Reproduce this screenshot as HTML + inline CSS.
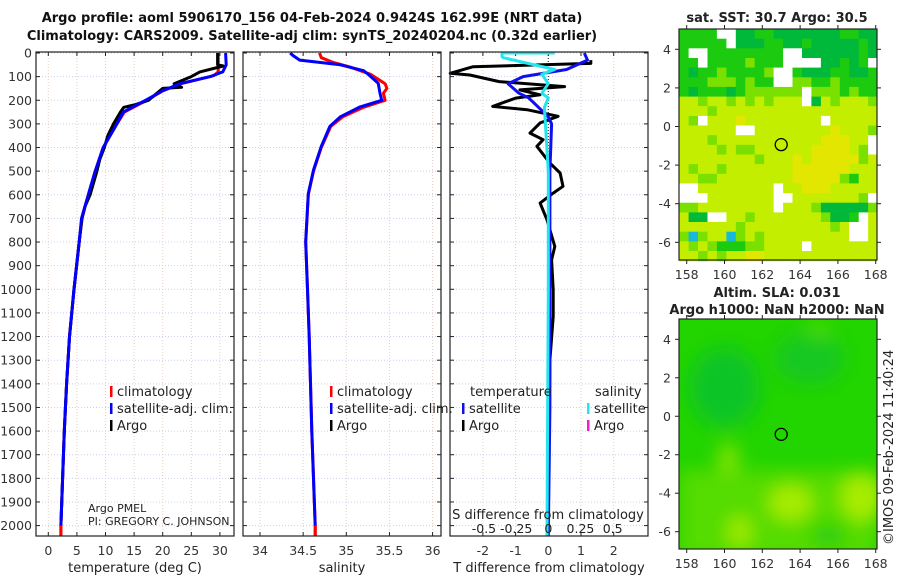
<!DOCTYPE html>
<html><head><meta charset="utf-8"><title>Argo profile</title>
<style>
html,body{margin:0;padding:0;background:#fff;}
svg{display:block;font-family:"DejaVu Sans","Liberation Sans",sans-serif;}
</style></head>
<body>
<svg id="fig" width="900" height="580" viewBox="0 0 900 580" xmlns="http://www.w3.org/2000/svg">
<rect width="900" height="580" fill="#fff"/>
<text x="312" y="22" text-anchor="middle" font-size="13" font-weight="bold" fill="#111">Argo profile: aoml 5906170_156 04-Feb-2024 0.9424S 162.99E (NRT data)</text>
<text x="312" y="40" text-anchor="middle" font-size="13" font-weight="bold" fill="#111">Climatology: CARS2009. Satellite-adj clim: synTS_20240204.nc (0.32d earlier)</text>
<g id="panels"></g>
<g id="maps"></g>
<text transform="translate(893,545) rotate(-90)" font-size="13" fill="#222">©IMOS 09-Feb-2024 11:40:24</text>
</svg>
<script>
// ---------- data ----------
const depthTicks=[0,100,200,300,400,500,600,700,800,900,1000,1100,1200,1300,1400,1500,1600,1700,1800,1900,2000];
const tempTicks=[0,5,10,15,20,25,30];
const salTicks=[34,34.5,35,35.5,36];
const salTickLabels=["34","34.5","35","35.5","36"];
const tdiffTicks=[-2,-1,0,1,2];
const sdiffTicks=[-0.5,-0.25,0,0.25,0.5];
const sdiffTickLabels=["-0.5","-0.25","0","0.25","0.5"];

const climTempDepth=[0,80,95,100,130,160,200,250,300,400,500,600,700,800,1000,1200,1400,1600,1800,2000,2045];
const climTempVal=[29.7,29.7,29.0,28.3,23.2,20.0,17.2,13.3,12.0,9.6,8.2,7.0,5.9,5.4,4.5,3.7,3.2,2.8,2.5,2.2,2.2];
const satTempDepth=[0,50,80,100,130,160,200,250,300,400,500,600,700,800,1000,1200,1400,1600,1800,2000];
const satTempVal=[31.0,31.1,30.5,28.3,23.0,20.0,17.0,13.1,12.0,9.6,8.2,7.0,5.8,5.4,4.5,3.7,3.2,2.8,2.5,2.2];
const argoTempDepth=[0,50,55,80,100,130,145,150,200,220,230,250,300,350,400,450,500,600,650,700,800,1000,1200,1400,1600,1800,2000];
const argoTempVal=[29.6,29.6,30.6,26.5,25.0,22.0,23.3,20.0,17.5,15.0,13.2,12.6,11.4,10.4,9.8,9.0,8.5,7.3,6.4,5.9,5.4,4.5,3.7,3.2,2.8,2.5,2.2];

const climSalDepth=[0,20,40,60,90,130,150,170,200,230,270,310,400,500,600,800,1000,1200,1600,2000,2045];
const climSalVal=[34.69,34.71,34.85,35.05,35.28,35.45,35.47,35.43,35.45,35.2,34.96,34.82,34.71,34.62,34.56,34.53,34.55,34.57,34.6,34.64,34.64];
const satSalDepth=[0,10,30,50,75,86,128,170,200,228,270,310,395,495,595,800,1000,1200,1600,2000];
const satSalVal=[34.35,34.38,34.46,34.93,35.2,35.24,35.37,35.39,35.41,35.16,34.93,34.81,34.71,34.62,34.56,34.53,34.55,34.57,34.6,34.64];

const satTdiffDepth=[0,30,70,100,130,170,190,230,270,300,500,1000,1500,2045];
const satTdiffVal=[1.1,1.2,0.56,-0.77,-1.23,-0.9,-0.6,-0.3,0.0,0.1,0.05,0.05,0.05,0.0];
const argoTdiffDepth=[30,44,58,86,93,121,142,156,177,191,226,240,268,296,339,367,395,466,508,564,593,635,706,819,875,1002,1115,1300,1500,1650];
const argoTdiffVal=[1.3,1.3,-2.3,-3.0,-2.4,-1.5,0.5,-0.87,-0.25,-1.0,-1.7,-0.65,0.3,-0.25,-0.56,-0.16,-0.35,0.05,0.36,0.45,0.15,-0.25,-0.04,0.2,0.1,0.15,0.15,0.05,0.03,0.02];
const satSdiffDepth=[0,0,15,20,70,90,130,170,190,230,500,1000,2045];
const satSdiffVal=[0.05,-0.36,-0.36,-0.35,0.05,-0.05,0.0,-0.05,0.0,-0.03,0.0,0.0,-0.01];

// SST map grid (rows lat 5 -> -7 step 0.5, cols lon 157.6 step 0.5)
const sstRows=[
"GGGGWWDDGGDDDDDDDGGDD",
"GGGGGWDDDGGDDGDDDDDGD",
"GWWGGGGGGGGWWDDDDDDGD",
"GGWGGGGLGGGWWWWDDGDGW",
"GDGGLGGGGLWWGDDDGGDDG",
"GGGLLLGLGGWWLLGGLGGGG",
"GDGGGDGLLLLLLWLLLGLGG",
"YYLYYLYLYLYYYWDYLYYYL",
"YYYLYYYYYYYYYYYYYYYYY",
"YLWYYYOYYYYYYYYWYYYYY",
"YYYYYYWWYYYYYYYYOYYYL",
"YYYLYYYYYYYYYYYOOOYYW",
"YYYYLYLLYYYYYYOOOOYLW",
"YYYYYYYYLYYYOYOOOOOLY",
"YLYYLYYYYYYYOOOOOOYYY",
"YYLLYYYYYYYYOOOOOLGYY",
"WWYYYYYYYYWYYOOOYYYYY",
"WWWYYYYYYYWWYYYYYYYLW",
"LLYYYYYYYYWYYYLDDDDDL",
"YDDWWYYLYYYYYYYLDDGWY",
"YYYYYYLYYYYYYYYYLYWWY",
"LCLYYCLYLYYYYYYYYYWWY",
"YLYLGGGLLYYYYWYYYYYYY",
"YYLYLYYOOYYYYYYYYYYYY"];
const lonTicks=[158,160,162,164,166,168];
const latTicks=[4,2,0,-2,-4,-6];
const floatLon=[163.0];
const floatLat=[-0.94];

// ---------- helpers ----------
const NS="http://www.w3.org/2000/svg";
function mk(tag,attrs,parent,txt){const e=document.createElementNS(NS,tag);for(const k in attrs)e.setAttribute(k,attrs[k]);if(txt!==undefined)e.textContent=txt;parent.appendChild(e);return e;}
const P=document.getElementById('panels');
const M=document.getElementById('maps');
const yD=d=>53+d*0.2363;
const xT=t=>48.3+t*5.72;
const xS=s=>260+(s-34)*86.3;
const xTD=v=>548.3+v*32.7;
const xSD=v=>548.3+v*128.7;
const TOP=52, BOT=536;
const panelsX=[[36,234],[243,441],[450,648]];

function series(depths,vals,xf,color,w,name,g){
  const pts=depths.map((d,i)=>xf(vals[i]).toFixed(1)+","+yD(d).toFixed(1)).join(" ");
  const el=mk('polyline',{points:pts,fill:'none',stroke:color,'stroke-width':w,'stroke-linejoin':'round'},g);
  
  
  return el;
}

panelsX.forEach((px,pi)=>{
  const g=mk('g',{},P);
  
  
  // horizontal grid
  depthTicks.forEach(d=>{
    const l=mk('line',{x1:px[0],x2:px[1],y1:yD(d),y2:yD(d),stroke:'#c9cff0','stroke-width':1,'stroke-dasharray':'1,2'},g);
    
    
    mk('line',{x1:px[0],x2:px[0]+4,y1:yD(d),y2:yD(d),stroke:'#222'},g);
    mk('line',{x1:px[1]-4,x2:px[1],y1:yD(d),y2:yD(d),stroke:'#222'},g);
  });
  let ticks,xf;
  if(pi===0){ticks=tempTicks;xf=xT;}else if(pi===1){ticks=salTicks;xf=xS;}else{ticks=tdiffTicks;xf=xTD;}
  ticks.forEach((t,i)=>{
    const x=xf(t);
    const l=mk('line',{x1:x,x2:x,y1:TOP,y2:BOT,stroke:'#e6cfc0','stroke-width':1,'stroke-dasharray':'1,2'},g);
    
    
    mk('line',{x1:x,x2:x,y1:TOP,y2:TOP+4,stroke:'#222'},g);
    mk('line',{x1:x,x2:x,y1:BOT-4,y2:BOT,stroke:'#222'},g);
    const lab=mk('text',{x:x,y:555,'text-anchor':'middle','font-size':12.5,fill:'#333'},g,pi===1?salTickLabels[i]:String(t));
    
    
  });
});
// y tick labels
depthTicks.forEach(d=>{
  const t=mk('text',{x:32,y:yD(d)+4.5,'text-anchor':'end','font-size':12.5,fill:'#333'},P,String(d));
  
  
});

// Panel 1 series
const g1=P.children[0];
series(climTempDepth,climTempVal,xT,'#ff0000',3,'temperature-climatology-line',g1);
series(argoTempDepth,argoTempVal,xT,'#000000',3,'temperature-argo-line',g1);
series(satTempDepth,satTempVal,xT,'#0000ff',3,'temperature-satellite-line',g1);
mk('line',{x1:xT(2.2),x2:xT(2.2),y1:yD(2000),y2:yD(2045),stroke:'#ff0000','stroke-width':3},g1);
// Panel 2
const g2=P.children[1];
series(climSalDepth,climSalVal,xS,'#ff0000',3,'salinity-climatology-line',g2);
series(satSalDepth,satSalVal,xS,'#0000ff',3,'salinity-satellite-line',g2);
mk('line',{x1:xS(34.64),x2:xS(34.64),y1:yD(2000),y2:yD(2045),stroke:'#ff0000','stroke-width':3},g2);
// Panel 3
const g3=P.children[2];
mk('line',{x1:xTD(0),x2:xTD(0),y1:TOP,y2:BOT,stroke:'#222','stroke-dasharray':'1,2'},g3);
series(argoTdiffDepth,argoTdiffVal,xTD,'#000000',3,'tdiff-argo-line',g3);
series(satTdiffDepth,satTdiffVal,xTD,'#1010ee',3,'tdiff-satellite-line',g3);
series(satSdiffDepth,satSdiffVal,xSD,'#22e6ee',3,'sdiff-satellite-line',g3);

// frames
panelsX.forEach((px,pi)=>{
  const r=mk('rect',{x:px[0],y:TOP,width:px[1]-px[0],height:BOT-TOP,fill:'none',stroke:'#222','stroke-width':1.2},P);
  
  
});

// axis titles
function txt(x,y,s,size,name,anchor,parent,extra){
  const a=Object.assign({x:x,y:y,'font-size':size,fill:'#222','text-anchor':anchor||'start'},extra||{});
  const t=mk('text',a,parent||P,s);
  
  
  return t;
}
txt(135,572,'temperature (deg C)',13,'x-axis-title-temperature','middle');
txt(342,572,'salinity',13,'x-axis-title-salinity','middle');
txt(549,572,'T difference from climatology',13,'x-axis-title-tdiff','middle');
txt(548,519,'S difference from climatology',13,'sdiff-axis-title','middle');
sdiffTicks.forEach((v,i)=>{txt(xSD(v),533,sdiffTickLabels[i],12.5,'sdiff-tick-label','middle');});
txt(88,512,'Argo PMEL',11,'argo-pmel-label');
txt(88,525,'PI: GREGORY C. JOHNSON',11,'pi-label');

// legends
function legend(x,y,color,label,name){
  const g=mk('g',{},P);
  
  
  mk('rect',{x:x,y:y-10,width:2.5,height:11,fill:color},g);
  mk('text',{x:x+7,y:y,'font-size':13,fill:'#222'},g,label);
}
legend(110,396,'#ff0000','climatology','legend-entry-climatology');
legend(110,413,'#0000ff','satellite-adj. clim.','legend-entry-satellite-temp');
legend(110,430,'#000000','Argo','legend-entry-argo-temp');
legend(330,396,'#ff0000','climatology','legend-entry-climatology-sal');
legend(330,413,'#0000ff','satellite-adj. clim.','legend-entry-satellite-sal');
legend(330,430,'#000000','Argo','legend-entry-argo-sal');
txt(470,396,'temperature',13,'legend-heading-temperature');
txt(595,396,'salinity',13,'legend-heading-salinity');
legend(462,413,'#1010ee','satellite','legend-entry-tdiff-satellite');
legend(462,430,'#000000','Argo','legend-entry-tdiff-argo');
legend(587,413,'#22e6ee','satellite','legend-entry-sdiff-satellite');
legend(587,430,'#ee22cc','Argo','legend-entry-sdiff-argo');

// ---------- maps ----------
const MX0=679,MX1=877;
const lonX=lo=>686.7+(lo-158)*18.9;
function mapAxes(y0,y1,latY,name){
  const g=mk('g',{},M);
  
  
  mk('rect',{x:MX0,y:y0,width:MX1-MX0,height:y1-y0,fill:'none',stroke:'#222','stroke-width':1.2},g);
  lonTicks.forEach(lo=>{
    const x=lonX(lo);
    mk('line',{x1:x,x2:x,y1:y0-4,y2:y0,stroke:'#222'},g);
    mk('line',{x1:x,x2:x,y1:y1,y2:y1+4,stroke:'#222'},g);
    const t=mk('text',{x:x,y:y1+19,'text-anchor':'middle','font-size':12.5,fill:'#333'},g,String(lo));
    
    
  });
  latTicks.forEach(la=>{
    const y=latY(la);
    mk('line',{x1:MX0-4,x2:MX0,y1:y,y2:y,stroke:'#222'},g);
    mk('line',{x1:MX1,x2:MX1+4,y1:y,y2:y,stroke:'#222'},g);
    const t=mk('text',{x:MX0-8,y:y+4.5,'text-anchor':'end','font-size':12.5,fill:'#333'},g,String(la));
    
    
  });
  const c=mk('ellipse',{cx:lonX(floatLon[0]),cy:latY(floatLat[0]),rx:6,ry:6,fill:'none',stroke:'#000','stroke-width':1.3},g);
  
  
}
// SST map
const latY1=la=>49.3+(4-la)*19.3;
const colors={D:'#00b83a',G:'#1ccb10',L:'#7ae000',Y:'#c4ee00',O:'#e2e600',W:'#ffffff',C:'#18b8d8'};
const sstG=mk('g',{},M);


sstRows.forEach((row,ri)=>{
  for(let ci=0;ci<row.length;ci++){
    const lo=157.6+ci*0.5, la=5.05-ri*0.5;
    const x=lonX(lo), y=latY1(la);
    mk('rect',{x:x.toFixed(1),y:y.toFixed(1),width:(0.5*18.9+0.6).toFixed(1),height:(0.5*19.3+0.6).toFixed(1),fill:colors[row[ci]]},sstG);
  }
});
mk('rect',{x:MX1,y:20,width:20,height:250,fill:'#fff'},M);
txt(777,22,'sat. SST: 30.7 Argo: 30.5',13,'sst-map-title','middle',M,{'font-weight':'bold'});
mapAxes(29,260,latY1,'sst-map');

// SLA map
const latY2=la=>339.3+(4-la)*19.24;
const defs=mk('defs',{},M);
const f=mk('filter',{id:'bl',x:'-50%',y:'-50%',width:'200%',height:'200%'},defs);
mk('feGaussianBlur',{stdDeviation:9},f);
const cp=mk('clipPath',{id:'clip2'},defs);
mk('rect',{x:MX0,y:319,width:MX1-MX0,height:230},cp);
const slaG=mk('g',{'clip-path':'url(#clip2)'},M);


mk('rect',{x:MX0,y:319,width:198,height:230,fill:'#22d400'},slaG);
const bl=mk('g',{filter:'url(#bl)'},slaG);
mk('ellipse',{cx:lonX(160),cy:latY2(1.5),rx:35,ry:40,fill:'#10c428'},bl);
mk('ellipse',{cx:lonX(164.5),cy:latY2(3),rx:35,ry:25,fill:'#14c820'},bl);
mk('rect',{x:MX0,y:latY2(-2.8),width:198,height:90,fill:'#55dc00'},bl);
mk('ellipse',{cx:lonX(163.5),cy:latY2(-4.5),rx:22,ry:18,fill:'#a8ec00'},bl);
mk('ellipse',{cx:lonX(167.3),cy:latY2(-4.2),rx:22,ry:24,fill:'#a8ec00'},bl);
mk('ellipse',{cx:lonX(160.8),cy:latY2(-6),rx:12,ry:16,fill:'#a0ea00'},bl);
mk('ellipse',{cx:lonX(160.2),cy:latY2(-2.2),rx:10,ry:16,fill:'#88e400'},bl);
mk('ellipse',{cx:lonX(165.5),cy:latY2(-6.2),rx:18,ry:10,fill:'#22cc10'},bl);
mk('ellipse',{cx:lonX(165),cy:latY2(4.5),rx:12,ry:8,fill:'#50dc00'},bl);
txt(777,297,'Altim. SLA: 0.031',13,'sla-map-title','middle',M,{'font-weight':'bold'});
txt(777,314,'Argo h1000: NaN h2000: NaN',13,'sla-map-subtitle','middle',M,{'font-weight':'bold'});
mapAxes(319,549,latY2,'sla-map');
</script>
</body></html>
